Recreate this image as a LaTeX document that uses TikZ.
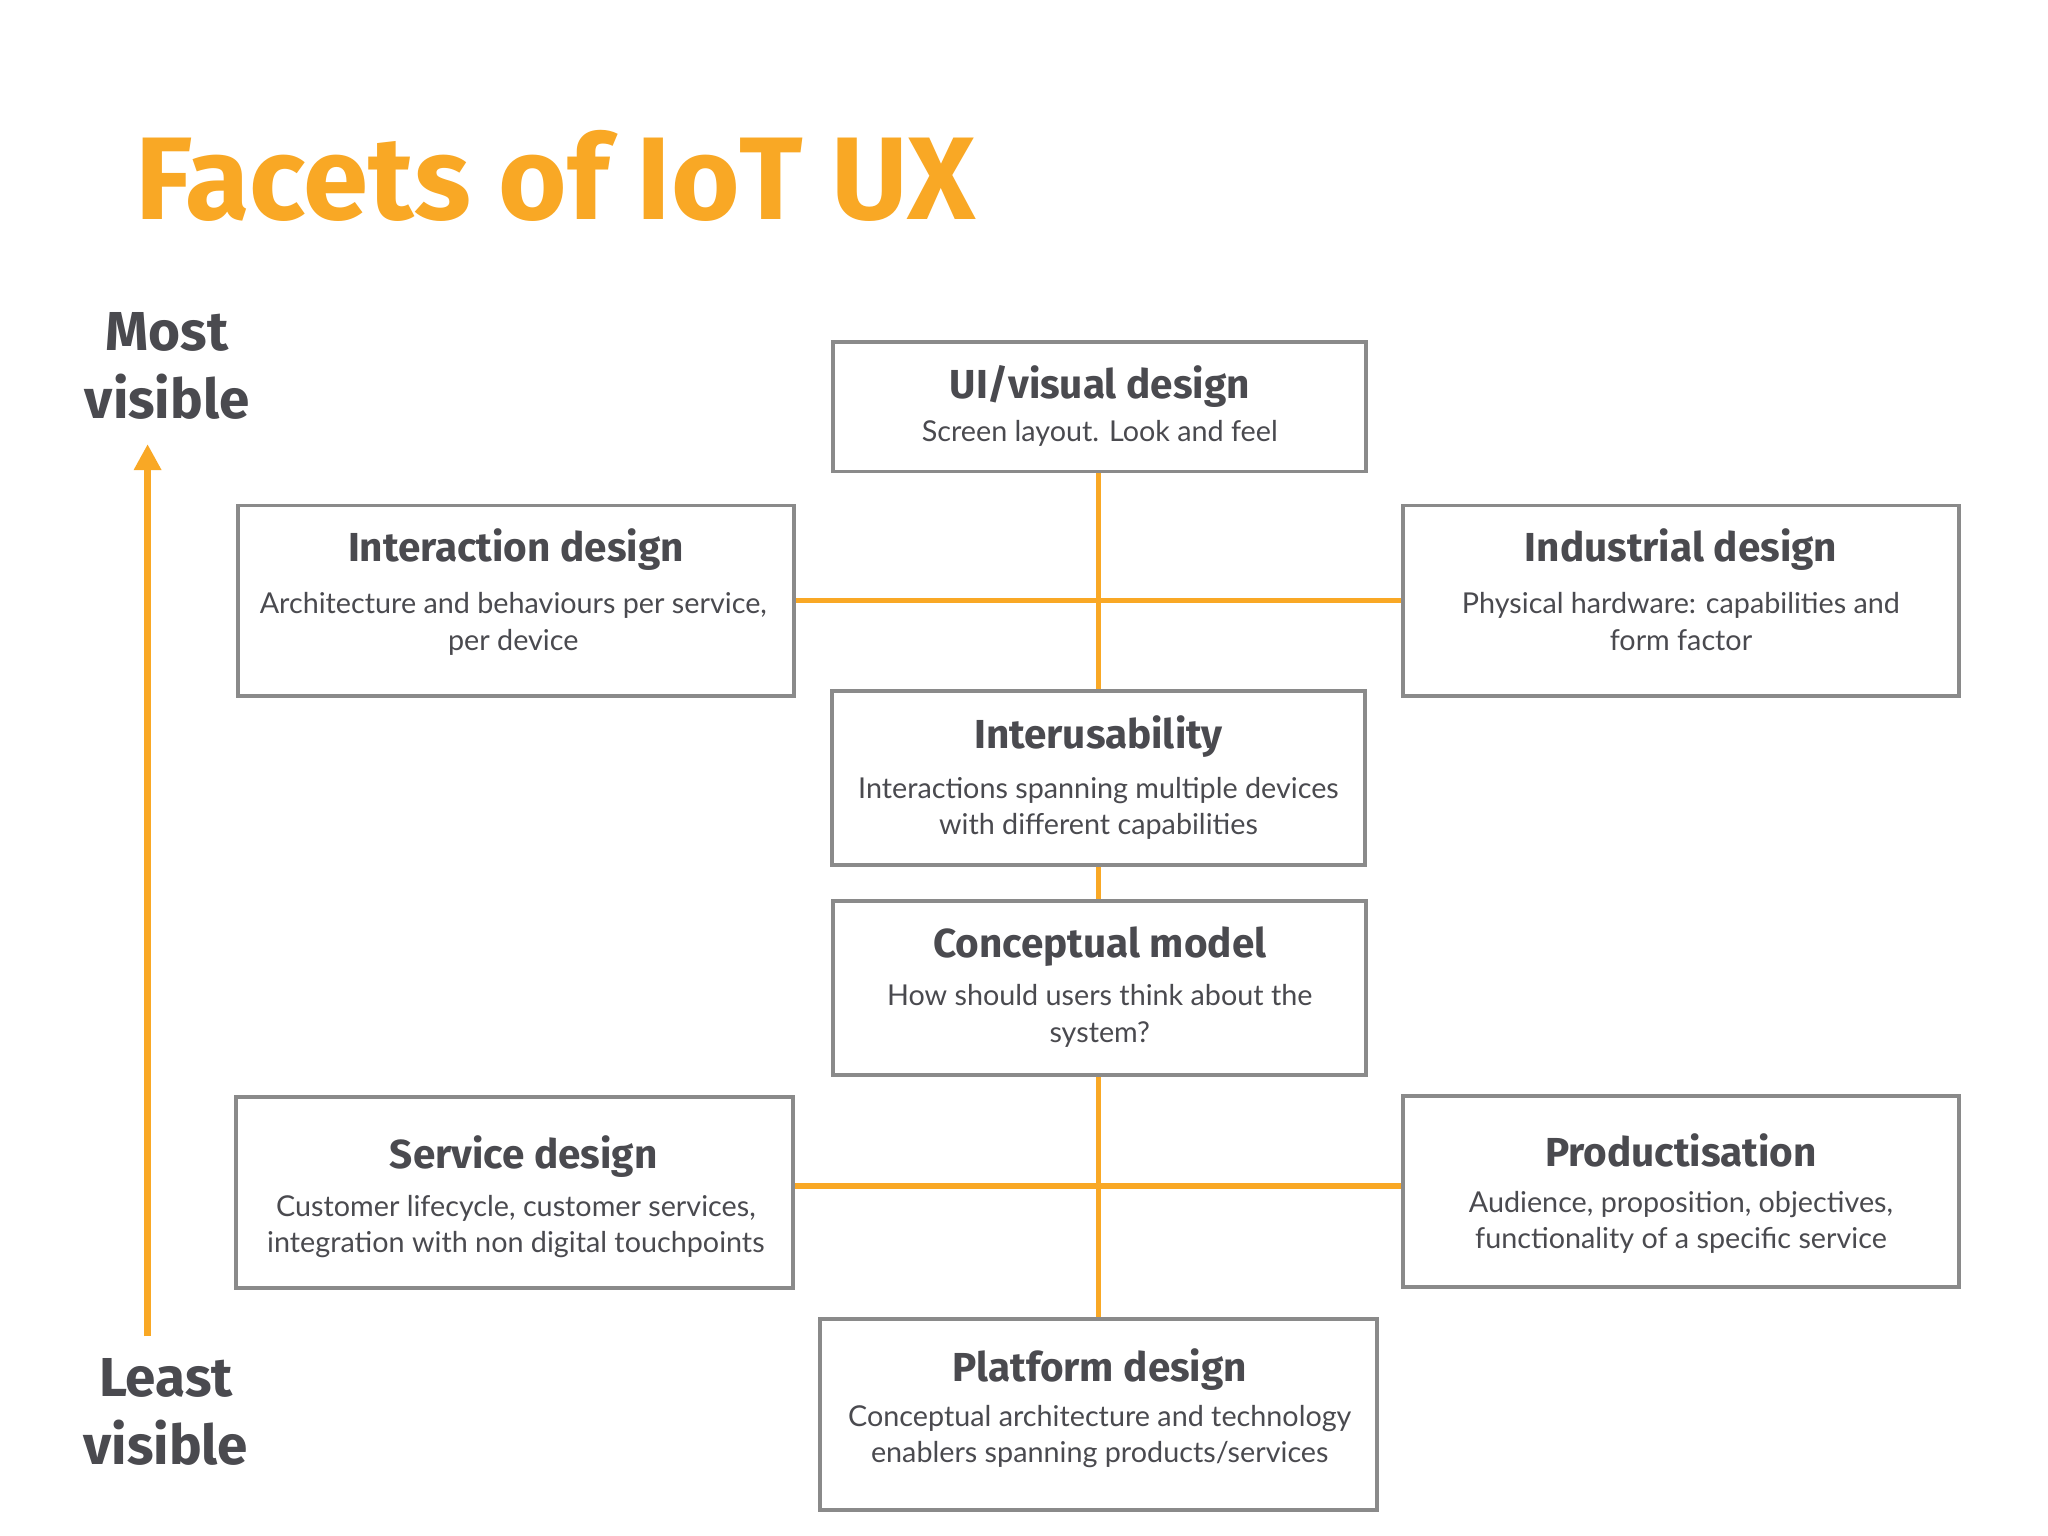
\documentclass[tikz,border=0pt]{standalone}
\usepackage{fontspec}
\usetikzlibrary{arrows.meta}
\setmainfont{Lato}
\newfontfamily\headfont{Fira Sans}[UprightFont=* Bold]
\definecolor{org}{HTML}{F9A825}
\definecolor{txt}{HTML}{4A4A4F}
\definecolor{boxc}{HTML}{8A8A8A}
\begin{document}
\begin{tikzpicture}[x=0.5pt,y=-0.5pt,
  box/.style={draw=boxc,line width=1.5pt,inner sep=0pt},
  ttl/.style={font=\headfont\fontsize{15.5}{18}\selectfont,text=txt,anchor=base},
  sub/.style={font=\fontsize{11}{14}\selectfont,text=txt,anchor=base,align=center},
  conn/.style={draw=org,line width=2pt},
  side/.style={font=\headfont\fontsize{21}{26}\selectfont,text=txt,align=center}]
\fill[white] (0,0) rectangle (1568,1176);
\useasboundingbox (0,0) rectangle (1568,1176);
\node[anchor=base west,text=org,font=\headfont\fontsize{45}{50}\selectfont,inner sep=0pt] (title) at (103,168) {Facets of IoT UX};
% boxes
\newcommand\mkbox[5]{\node[box,minimum width={(#4-#2)*0.5pt},minimum height={(#5-#3)*0.5pt}] (#1) at ({(#2+#4)/2},{(#3+#5)/2}) {};}
\mkbox{ui}{638}{262}{1046}{361}
\mkbox{ia}{182}{387}{608}{533}
\mkbox{ind}{1074}{387}{1500}{533}
\mkbox{iu}{637}{529}{1045}{662}
\mkbox{cm}{638}{690}{1046}{823}
\mkbox{sd}{181}{840}{607}{986}
\mkbox{pr}{1074}{839}{1500}{985}
\mkbox{pd}{628}{1010}{1054}{1156}
% connectors
\coordinate (c1) at (841,460);
\coordinate (c2) at (841,908);
\draw[conn] (ui.south -| c1) -- (iu.north -| c1);
\draw[conn] (ia.east |- c1) -- (ind.west |- c1);
\draw[conn] (iu.south -| c1) -- (cm.north -| c1);
\draw[conn] (cm.south -| c1) -- (pd.north -| c1);
\draw[conn] (sd.east |- c2) -- (pr.west |- c2);
% texts (two-line nodes: base = last line)
\node[ttl] (t1) at (842,305) {UI/visual design};
\node[sub] (s1) at (842,338) {Screen layout. Look and feel};
\node[ttl] (t2) at (395,430) {Interaction design};
\node[sub] (s2) at (393,498) {Architecture and behaviours per service,\\per device};
\node[ttl] (t3) at (1287,430) {Industrial design};
\node[sub] (s3) at (1287,498) {Physical hardware: capabilities and\\form factor};
\node[ttl] (t4) at (841,573) {Interusability};
\node[sub] (s4) at (841,639) {Interactions spanning multiple devices\\with different capabilities};
\node[ttl] (t5) at (842,733) {Conceptual model};
\node[sub] (s5) at (842,798) {How should users think about the\\system?};
\node[ttl] (t6) at (401,895) {Service design};
\node[sub] (s6) at (395,959) {Customer lifecycle, customer services,\\integration with non digital touchpoints};
\node[ttl] (t7) at (1287,893) {Productisation};
\node[sub] (s7) at (1287,956) {Audience, proposition, objectives,\\functionality of a specific service};
\node[ttl] (t8) at (842,1058) {Platform design};
\node[sub] (s8) at (842,1120) {Conceptual architecture and technology\\enablers spanning products/services};
% side
\node[side] (most) at (128,280) {Most\\visible};
\node[side] (least) at (127,1081) {Least\\visible};
\coordinate (abot) at (113,1023);
\coordinate (atop) at (113,340);
\draw[org,line width=2.5pt,-{Triangle[length=10pt,width=10pt]}] (abot) -- (atop);
\end{tikzpicture}
\end{document}
